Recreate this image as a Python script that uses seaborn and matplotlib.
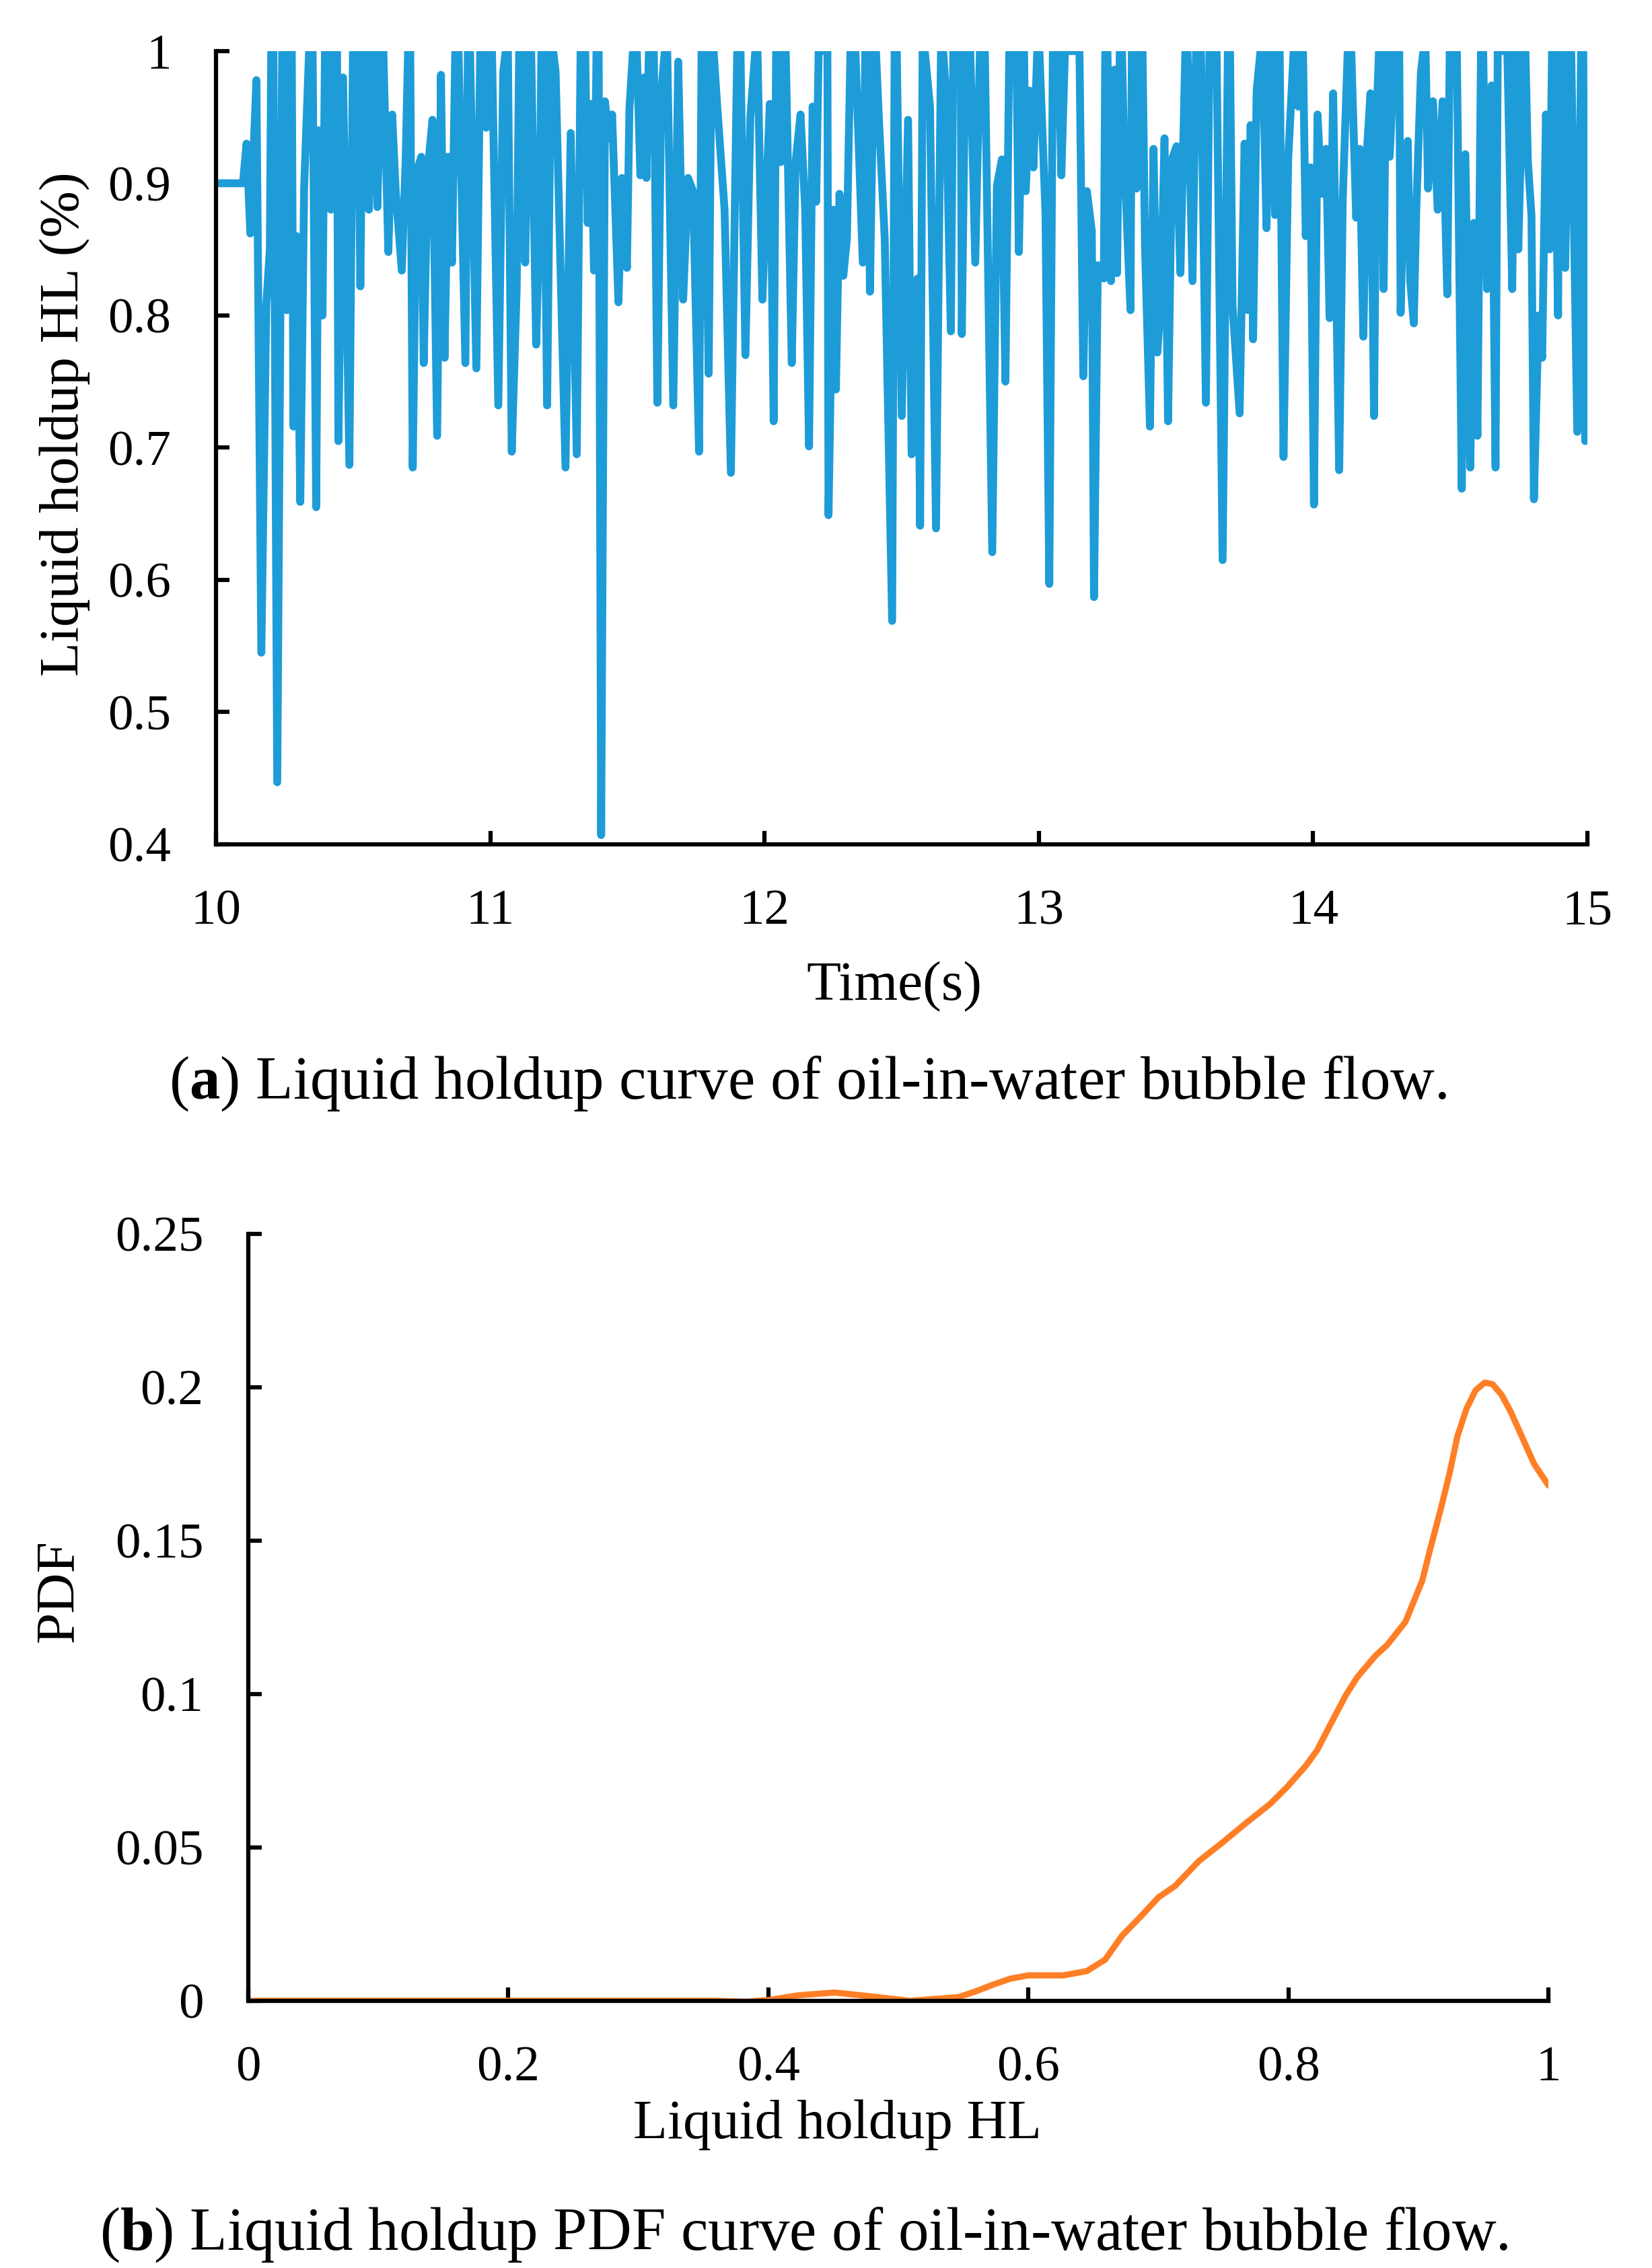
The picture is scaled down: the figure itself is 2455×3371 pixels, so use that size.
import pandas as pd
import seaborn as sns
import matplotlib.pyplot as plt
from matplotlib.ticker import FuncFormatter


# Liquid holdup vs time as [time (s), holdup] pairs,
# one list per second. Values at 1.0 are where the curve runs along the top.
seg_10_11 = [
    [10.000, 0.900], [10.098, 0.900], [10.111, 0.930], [10.125, 0.862], [10.147, 0.978],
    [10.165, 0.545], [10.183, 0.808], [10.196, 0.850], [10.201, 1.000], [10.209, 1.000],
    [10.223, 0.447], [10.241, 1.000], [10.249, 1.000], [10.258, 0.804], [10.268, 1.000],
    [10.276, 1.000], [10.282, 0.716], [10.294, 0.860], [10.307, 0.659], [10.321, 0.896],
    [10.339, 1.000], [10.352, 1.000], [10.365, 0.655], [10.374, 0.940], [10.388, 0.800],
    [10.397, 1.000], [10.405, 1.000], [10.419, 0.880], [10.433, 1.000], [10.441, 1.000],
    [10.446, 0.705], [10.463, 0.980], [10.486, 0.687], [10.499, 1.000], [10.517, 1.000],
    [10.526, 0.822], [10.535, 1.000], [10.543, 1.000], [10.557, 0.880], [10.571, 1.000],
    [10.579, 1.000], [10.588, 0.882], [10.602, 1.000], [10.610, 1.000], [10.628, 0.848],
    [10.642, 0.952], [10.655, 0.894], [10.677, 0.834], [10.691, 0.916], [10.700, 1.000],
    [10.708, 1.000], [10.717, 0.685], [10.731, 0.908], [10.748, 0.920], [10.757, 0.764],
    [10.771, 0.908], [10.789, 0.948], [10.806, 0.709], [10.820, 0.982], [10.833, 0.768],
    [10.846, 0.920], [10.860, 0.840], [10.872, 1.000], [10.884, 1.000], [10.909, 0.764],
    [10.918, 1.000], [10.926, 1.000], [10.949, 0.760], [10.963, 1.000], [10.971, 1.000],
    [10.985, 0.942], [10.998, 1.000],
]
seg_11_12 = [
    [11.006, 1.000], [11.029, 0.732], [11.047, 0.984], [11.056, 1.000], [11.064, 1.000],
    [11.078, 0.697], [11.096, 0.820], [11.105, 1.000], [11.113, 1.000], [11.127, 0.840],
    [11.141, 1.000], [11.149, 1.000], [11.167, 0.778], [11.181, 0.888], [11.186, 1.000],
    [11.193, 1.000], [11.207, 0.732], [11.221, 1.000], [11.229, 1.000], [11.238, 0.984],
    [11.274, 0.685], [11.293, 0.938], [11.315, 0.695], [11.329, 1.000], [11.346, 1.000],
    [11.355, 0.870], [11.366, 0.960], [11.378, 0.834], [11.387, 1.000], [11.395, 1.000],
    [11.404, 0.407], [11.418, 0.962], [11.431, 0.934], [11.444, 0.952], [11.467, 0.810],
    [11.480, 0.904], [11.498, 0.836], [11.507, 0.956], [11.520, 1.000], [11.534, 1.000],
    [11.547, 0.906], [11.560, 0.980], [11.569, 0.904], [11.578, 1.000], [11.596, 1.000],
    [11.609, 0.734], [11.623, 0.968], [11.636, 1.000], [11.645, 1.000], [11.667, 0.732],
    [11.685, 0.992], [11.703, 0.812], [11.721, 0.904], [11.739, 0.894], [11.761, 0.697],
    [11.770, 1.000], [11.778, 1.000], [11.796, 0.756], [11.806, 1.000], [11.814, 1.000],
    [11.828, 0.956], [11.854, 0.880], [11.877, 0.681], [11.900, 1.000], [11.912, 1.000],
    [11.930, 0.770], [11.948, 0.950], [11.966, 1.000], [11.974, 1.000], [11.992, 0.812],
]
seg_12_13 = [
    [12.006, 0.892], [12.019, 0.960], [12.033, 0.720], [12.042, 1.000], [12.050, 1.000],
    [12.059, 0.916], [12.069, 1.000], [12.077, 1.000], [12.099, 0.764], [12.113, 0.916],
    [12.131, 0.952], [12.148, 0.880], [12.162, 0.701], [12.175, 0.958], [12.188, 0.886],
    [12.197, 1.000], [12.229, 1.000], [12.233, 0.649], [12.251, 0.880], [12.260, 0.744],
    [12.273, 0.892], [12.287, 0.830], [12.300, 0.858], [12.313, 1.000], [12.331, 1.000],
    [12.358, 0.840], [12.367, 1.000], [12.375, 1.000], [12.384, 0.818], [12.398, 1.000],
    [12.406, 1.000], [12.416, 0.952], [12.438, 0.858], [12.465, 0.569], [12.474, 1.000],
    [12.482, 1.000], [12.500, 0.724], [12.523, 0.948], [12.536, 0.695], [12.558, 0.828],
    [12.567, 0.641], [12.576, 1.000], [12.584, 1.000], [12.603, 0.958], [12.625, 0.639],
    [12.643, 1.000], [12.651, 1.000], [12.661, 0.968], [12.679, 0.788], [12.688, 1.000],
    [12.715, 1.000], [12.719, 0.786], [12.732, 1.000], [12.750, 1.000], [12.768, 0.840],
    [12.785, 1.000], [12.803, 1.000], [12.830, 0.621], [12.847, 0.898], [12.865, 0.918],
    [12.878, 0.750], [12.892, 1.000], [12.918, 1.000], [12.927, 0.848], [12.941, 1.000],
    [12.946, 1.000], [12.952, 0.894], [12.967, 0.970], [12.980, 0.912], [12.994, 1.000],
]
seg_13_14 = [
    [13.002, 1.000], [13.024, 0.878], [13.038, 0.597], [13.051, 1.000], [13.072, 1.000],
    [13.082, 0.906], [13.095, 1.000], [13.148, 1.000], [13.162, 0.754], [13.175, 0.894],
    [13.193, 0.864], [13.201, 0.587], [13.215, 0.838], [13.237, 0.828], [13.242, 1.000],
    [13.250, 1.000], [13.263, 0.826], [13.277, 0.986], [13.285, 0.832], [13.295, 1.000],
    [13.303, 1.000], [13.312, 0.916], [13.334, 0.804], [13.339, 1.000], [13.347, 1.000],
    [13.356, 0.896], [13.370, 1.000], [13.378, 1.000], [13.387, 0.852], [13.405, 0.716],
    [13.418, 0.926], [13.432, 0.772], [13.445, 0.812], [13.458, 0.934], [13.471, 0.720],
    [13.485, 0.918], [13.502, 0.928], [13.516, 0.832], [13.529, 0.952], [13.534, 1.000],
    [13.542, 1.000], [13.560, 0.826], [13.573, 1.000], [13.591, 1.000], [13.609, 0.734],
    [13.622, 1.000], [13.648, 1.000], [13.670, 0.615], [13.689, 1.000], [13.697, 1.000],
    [13.706, 0.808], [13.732, 0.726], [13.750, 0.930], [13.763, 0.804], [13.772, 0.944],
    [13.781, 0.782], [13.794, 0.970], [13.808, 1.000], [13.816, 1.000], [13.830, 0.866],
    [13.839, 1.000], [13.847, 1.000], [13.861, 0.876], [13.870, 1.000], [13.878, 1.000],
    [13.892, 0.693], [13.909, 0.918], [13.929, 1.000], [13.937, 1.000], [13.946, 0.958],
    [13.955, 1.000], [13.963, 1.000], [13.973, 0.860], [13.990, 0.912],
]
seg_14_15 = [
    [14.003, 0.657], [14.016, 0.952], [14.030, 0.892], [14.047, 0.926], [14.060, 0.798],
    [14.073, 0.968], [14.082, 0.848], [14.095, 0.683], [14.108, 0.888], [14.126, 1.000],
    [14.139, 1.000], [14.157, 0.874], [14.170, 0.926], [14.183, 0.784], [14.196, 0.924],
    [14.209, 0.968], [14.222, 0.724], [14.231, 0.948], [14.240, 1.000], [14.248, 1.000],
    [14.257, 0.820], [14.266, 1.000], [14.274, 1.000], [14.279, 0.920], [14.297, 1.000],
    [14.314, 1.000], [14.319, 0.802], [14.327, 0.868], [14.345, 0.932], [14.354, 0.826],
    [14.367, 0.794], [14.376, 0.880], [14.393, 0.984], [14.402, 1.000], [14.410, 1.000],
    [14.419, 0.896], [14.437, 0.962], [14.454, 0.880], [14.472, 0.962], [14.489, 0.816],
    [14.498, 1.000], [14.524, 1.000], [14.542, 0.669], [14.555, 0.922], [14.573, 0.685],
    [14.586, 0.870], [14.599, 0.709], [14.612, 1.000], [14.620, 1.000], [14.634, 0.820],
    [14.651, 0.974], [14.665, 0.685], [14.673, 1.000], [14.708, 1.000], [14.726, 0.820],
    [14.735, 1.000], [14.743, 1.000], [14.748, 0.850], [14.766, 1.000], [14.774, 1.000],
    [14.783, 0.916], [14.796, 0.876], [14.805, 0.661], [14.822, 0.800], [14.835, 0.768],
    [14.849, 0.952], [14.862, 0.850], [14.871, 1.000], [14.879, 1.000], [14.893, 0.800],
    [14.898, 1.000], [14.904, 1.000], [14.919, 0.836], [14.933, 1.000], [14.941, 1.000],
    [14.963, 0.712], [14.977, 1.000], [14.985, 1.000], [14.992, 0.705], [15.000, 0.944],
]

# PDF curve of the holdup
pdf_x = [0.0, 0.10, 0.20, 0.30, 0.36, 0.383, 0.401, 0.423, 0.451, 0.478,
         0.509, 0.546, 0.559, 0.573, 0.586, 0.600, 0.627, 0.645, 0.659, 0.672,
         0.686, 0.700, 0.713, 0.731, 0.749, 0.767, 0.786, 0.799, 0.813, 0.822,
         0.831, 0.844, 0.853, 0.867, 0.876, 0.890, 0.903, 0.908, 0.917, 0.924,
         0.930, 0.937, 0.944, 0.951, 0.957, 0.964, 0.971, 0.980, 0.989, 1.0]
pdf_y = [0.0, 0.0, 0.0, 0.0, 0.0, -0.0003, 0.0003, 0.0018, 0.0027, 0.0015,
         0.0, 0.0012, 0.0030, 0.0053, 0.0072, 0.0083, 0.0083, 0.0097, 0.0134, 0.0212,
         0.0273, 0.0337, 0.0375, 0.0455, 0.0515, 0.0578, 0.0642, 0.0697, 0.0764, 0.0816,
         0.0890, 0.0995, 0.1055, 0.1125, 0.1160, 0.1235, 0.1370, 0.1455, 0.1600, 0.1720,
         0.1840, 0.1930, 0.1990, 0.2015, 0.2010, 0.1975, 0.1920, 0.1835, 0.1750, 0.1680]

df_a = pd.DataFrame(seg_10_11 + seg_11_12 + seg_12_13 + seg_13_14 + seg_14_15,
                    columns=["t", "hl"])
df_b = pd.DataFrame({"x": pdf_x, "pdf": pdf_y})

sns.set_style("ticks")
plt.rcParams['font.family'] = ['Liberation Serif', 'DejaVu Serif']
plt.rcParams['mathtext.fontset'] = 'custom'
plt.rcParams['mathtext.rm'] = 'Liberation Serif'
plt.rcParams['mathtext.bf'] = 'Liberation Serif:bold'
for key in ['text.color', 'axes.labelcolor', 'xtick.color', 'ytick.color', 'axes.edgecolor']:
    plt.rcParams[key] = 'black'

blue = "#1D9CD8"
orange = "#FE7F26"
tick_fs = 18
lab_fs = 20
cap_fs = 21.8

fig = plt.figure(figsize=(2455 / 300, 3371 / 300), dpi=300)
ax1 = fig.add_axes([0.1308, 0.6277, 0.9609 - 0.1308, 0.9775 - 0.6277])
ax2 = fig.add_axes([0.1503, 0.1178, 0.9373 - 0.1503, 0.4560 - 0.1178])

fmt = FuncFormatter(lambda v, p: f"{v:g}")

# (a) time series ------------------------------------------------------------
sns.lineplot(data=df_a, x="t", y="hl", ax=ax1, color=blue, linewidth=2.8,
             estimator=None, sort=False)
ax1.set_xlim(10, 15)
ax1.set_ylim(0.4, 1.0)
ax1.set_xticks([10, 11, 12, 13, 14, 15])
ax1.set_yticks([0.4, 0.5, 0.6, 0.7, 0.8, 0.9, 1.0])
ax1.set_xlabel("")
ax1.set_ylabel("")

# (b) PDF --------------------------------------------------------------------
sns.lineplot(data=df_b, x="x", y="pdf", ax=ax2, color=orange, linewidth=2.2,
             estimator=None, sort=False)
ax2.set_xlim(0, 1)
ax2.set_ylim(0, 0.25)
ax2.set_xticks([0, 0.2, 0.4, 0.6, 0.8, 1.0])
ax2.set_yticks([0, 0.05, 0.1, 0.15, 0.2, 0.25])
ax2.set_xlabel("")
ax2.set_ylabel("")

for ax in (ax1, ax2):
    sns.despine(ax=ax)
    ax.spines['left'].set_linewidth(1.5)
    ax.spines['bottom'].set_linewidth(1.5)
    ax.tick_params(direction='in', length=4.8, width=1.5, pad=16,
                   labelsize=tick_fs, colors='black')
    ax.xaxis.set_major_formatter(fmt)
    ax.yaxis.set_major_formatter(fmt)

# labels and captions
fig.text(0.5414, 0.5648, "Time(s)", ha='center', va='center', fontsize=lab_fs)
fig.text(0.0393, 0.8131, "Liquid holdup HL (%)", ha='center', va='center',
         rotation=90, fontsize=lab_fs)
fig.text(0.4888, 0.5221, r"($\mathbf{a}$) Liquid holdup curve of oil-in-water bubble flow.",
         ha='center', va='center', fontsize=cap_fs)

fig.text(0.5067, 0.0632, "Liquid holdup HL", ha='center', va='center', fontsize=lab_fs)
fig.text(0.0359, 0.2987, "PDF", ha='center', va='center', rotation=90, fontsize=lab_fs)
fig.text(0.4865, 0.0148, r"($\mathbf{b}$) Liquid holdup PDF curve of oil-in-water bubble flow.",
         ha='center', va='center', fontsize=cap_fs)

fig.savefig("out.png", dpi=300)
